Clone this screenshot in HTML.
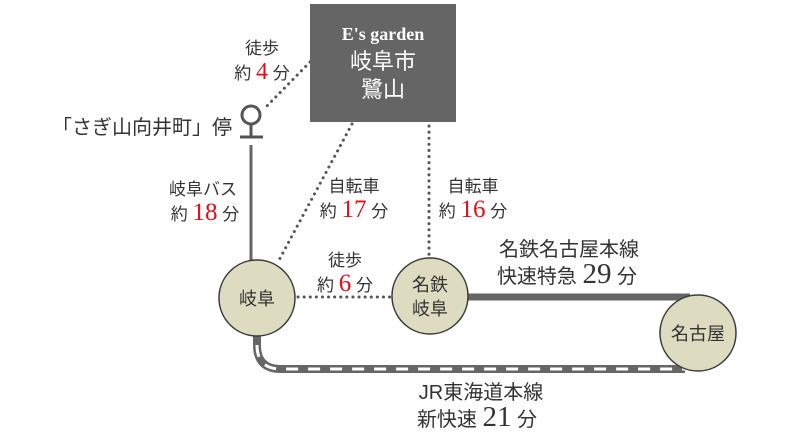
<!DOCTYPE html>
<html><head><meta charset="utf-8"><style>
html,body{margin:0;padding:0;background:#fff;width:800px;height:432px;overflow:hidden}
svg{display:block}
text{font-family:"Liberation Sans","Noto Sans CJK JP",sans-serif;fill:#333}
.s{font-family:"Liberation Serif","Noto Serif CJK SC",serif}
.r{fill:#e0101a}
</style></head><body>
<svg width="800" height="432" viewBox="0 0 800 432">
<g stroke="#555" stroke-width="3" stroke-dasharray="0.1 6" stroke-linecap="round" fill="none">
<line x1="310" y1="62" x2="265" y2="108"/>
<line x1="352" y1="124" x2="278" y2="262"/>
<line x1="429" y1="126" x2="429" y2="257"/>
<line x1="298" y1="297" x2="392" y2="297"/>
</g>
<rect x="310" y="4" width="146" height="118" fill="#656565"/>
<text x="383" y="40" text-anchor="middle" class="s" font-size="18" font-weight="bold" style="fill:#fff">E's garden</text>
<text x="383" y="69" text-anchor="middle" font-size="22" style="fill:#fff">岐阜市</text>
<text x="383" y="97" text-anchor="middle" font-size="22" style="fill:#fff">鷺山</text>
<circle cx="251" cy="115" r="9" fill="none" stroke="#555" stroke-width="3"/>
<line x1="251" y1="124" x2="251" y2="137" stroke="#555" stroke-width="3"/>
<line x1="240" y1="137" x2="263" y2="137" stroke="#555" stroke-width="3"/>
<line x1="251" y1="145" x2="251" y2="262" stroke="#666" stroke-width="3"/>
<line x1="466" y1="297" x2="690" y2="297" stroke="#666" stroke-width="7"/>
<path d="M257 330 L257 345 Q257 369 281 369 L685 369" fill="none" stroke="#666" stroke-width="8"/>
<path d="M257 345 Q257 369 281 369 L685 369" fill="none" stroke="#fff" stroke-width="3" stroke-dasharray="12 10"/>
<g fill="#dedcc0" stroke="#3a3a3a" stroke-width="1.5">
<circle cx="257" cy="298" r="38"/>
<circle cx="430" cy="296" r="38"/>
<circle cx="698" cy="333" r="38"/>
</g>
<text x="257" y="305" text-anchor="middle" font-size="18">岐阜</text>
<text x="430" y="291" text-anchor="middle" font-size="18">名鉄</text>
<text x="430" y="315" text-anchor="middle" font-size="18">岐阜</text>
<text x="698" y="340" text-anchor="middle" font-size="18">名古屋</text>
<text x="232" y="134" text-anchor="end" font-size="20">「さぎ山向井町」停</text>
<text x="262" y="54" text-anchor="middle" font-size="17">徒歩</text>
<text x="262" y="79" text-anchor="middle" font-size="17">約 <tspan class="s r" font-size="24">4</tspan> 分</text>
<text x="203" y="195" text-anchor="middle" font-size="17">岐阜バス</text>
<text x="205" y="220" text-anchor="middle" font-size="17">約 <tspan class="s r" font-size="25">18</tspan> 分</text>
<text x="354" y="192" text-anchor="middle" font-size="17">自転車</text>
<text x="354" y="217" text-anchor="middle" font-size="17">約 <tspan class="s r" font-size="25">17</tspan> 分</text>
<text x="473" y="192" text-anchor="middle" font-size="17">自転車</text>
<text x="473" y="217" text-anchor="middle" font-size="17">約 <tspan class="s r" font-size="25">16</tspan> 分</text>
<text x="345" y="266" text-anchor="middle" font-size="17">徒歩</text>
<text x="345" y="291" text-anchor="middle" font-size="17">約 <tspan class="s r" font-size="25">6</tspan> 分</text>
<text x="569" y="256" text-anchor="middle" font-size="20">名鉄名古屋本線</text>
<text x="567" y="283" text-anchor="middle" font-size="20">快速特急 <tspan class="s" font-size="29">29</tspan> 分</text>
<text x="481" y="399" text-anchor="middle" font-size="20">JR東海道本線</text>
<text x="477" y="426" text-anchor="middle" font-size="20">新快速 <tspan class="s" font-size="29">21</tspan> 分</text>
</svg>
</body></html>
